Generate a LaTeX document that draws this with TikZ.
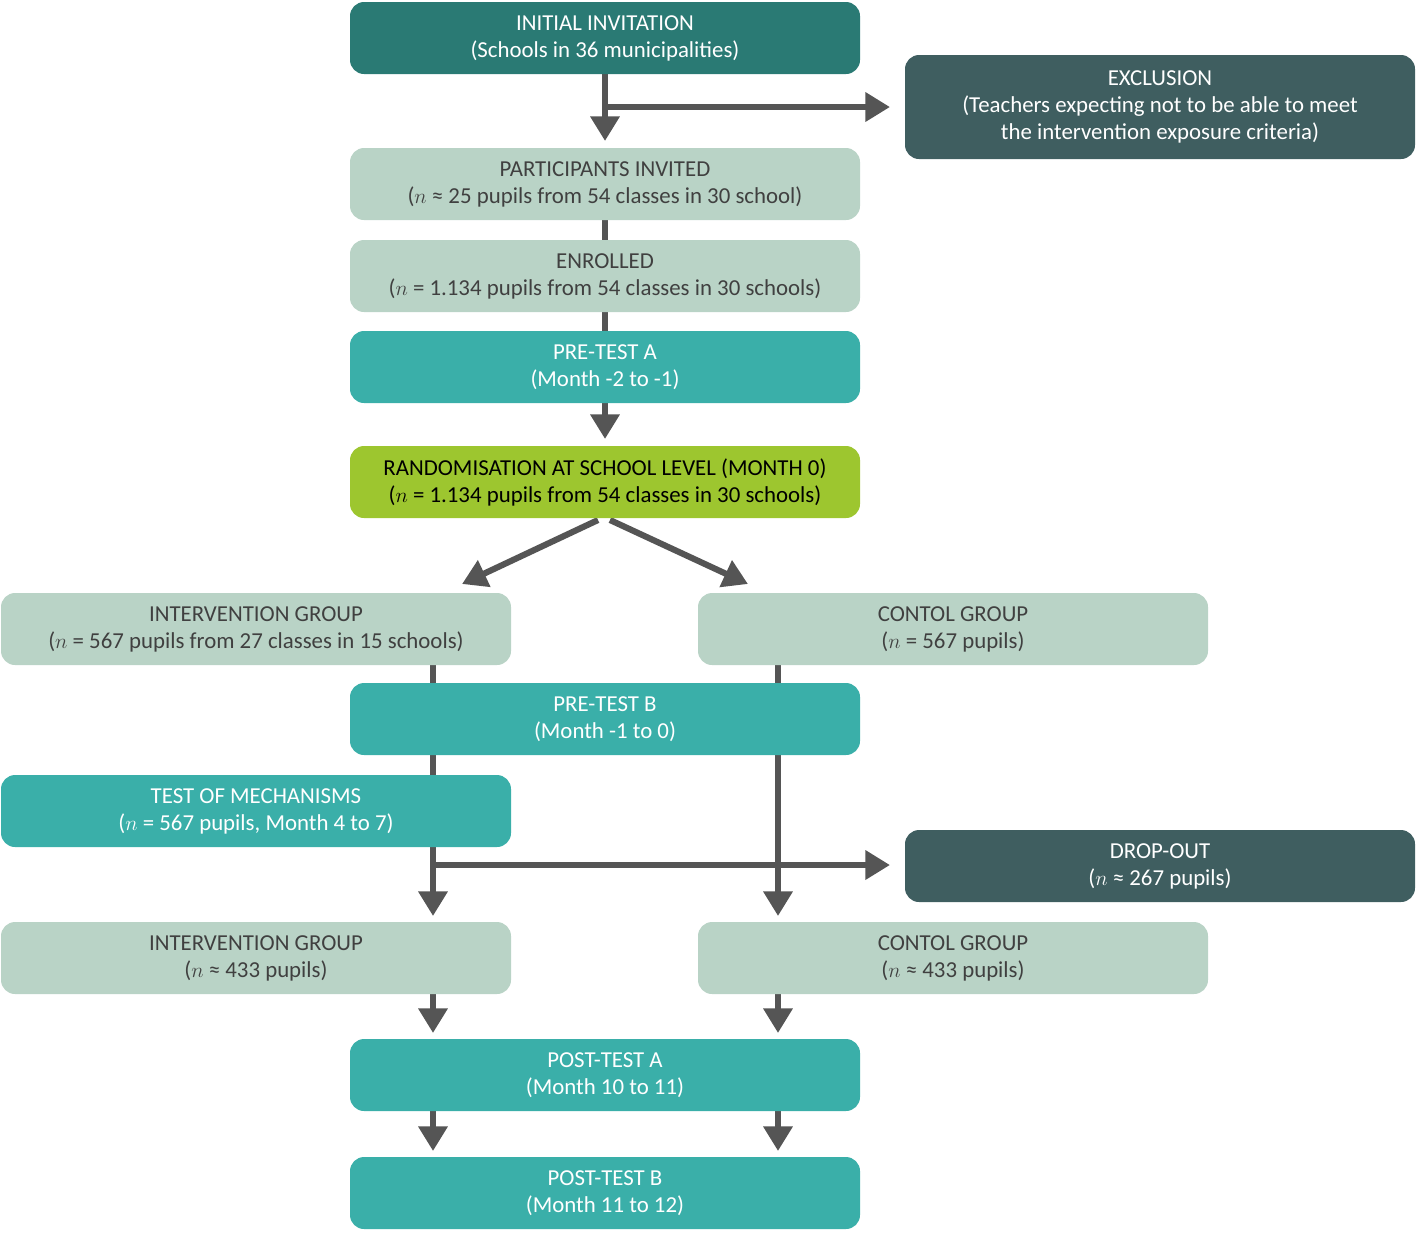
\documentclass[tikz,border=0pt]{standalone}
\usepackage{fontspec}
\setmainfont{Carlito}
\usetikzlibrary{arrows.meta}
\definecolor{darkteal}{HTML}{2A7A74}
\definecolor{slate}{HTML}{3F5E60}
\definecolor{pale}{HTML}{B9D3C6}
\definecolor{teal}{HTML}{3AAFA9}
\definecolor{lime}{HTML}{9DC62F}
\definecolor{line}{HTML}{555555}
\begin{document}
\begin{tikzpicture}[x=0.02cm,y=-0.02cm,
	box/.style={rounded corners=8pt, minimum width=510*0.02cm, minimum height=72*0.02cm, align=center, inner sep=0pt,
		font=\fontsize{13}{15.4}\selectfont},
	dark/.style={box, fill=darkteal, text=white},
	grey/.style={box, fill=slate, text=white},
	light/.style={box, fill=pale, text=black!75},
	test/.style={box, fill=teal, text=white},
	rand/.style={box, fill=lime, text=black},
	conn/.style={line, line width=3.5pt},
	arr/.style={conn, -{Triangle[length=14pt,width=16pt]}}]
	\useasboundingbox (0,0) rectangle (1416,1232);
	% connectors first, behind the boxes
	\coordinate (v1) at (605,74);   \coordinate (v2) at (605,141);
	\coordinate (b1) at (605,107);  \coordinate (b2) at (890,107);
	\coordinate (r1) at (598,520);  \coordinate (r2) at (462,584);
	\coordinate (r3) at (610,520);  \coordinate (r4) at (748,584);
	\coordinate (i1) at (433,665);  \coordinate (i2) at (433,916);
	\coordinate (c1) at (778,665);  \coordinate (c2) at (778,916);
	\coordinate (d1) at (433,865);  \coordinate (d2) at (890,865);
	\coordinate (i3) at (433,994);  \coordinate (i4) at (433,1033);
	\coordinate (c3) at (778,994);  \coordinate (c4) at (778,1033);
	\coordinate (i5) at (433,1111); \coordinate (i6) at (433,1151);
	\coordinate (c5) at (778,1111); \coordinate (c6) at (778,1151);
	\coordinate (p1) at (605,220);  \coordinate (p2) at (605,331);
	\coordinate (a1) at (605,403);  \coordinate (a2) at (605,439);
	\draw[arr] (v1) -- (v2);
	\draw[arr] (b1) -- (b2);
	\draw[conn] (p1) -- (p2);
	\draw[arr] (a1) -- (a2);
	\draw[arr] (r1) -- (r2);
	\draw[arr] (r3) -- (r4);
	\draw[arr] (i1) -- (i2);
	\draw[arr] (c1) -- (c2);
	\draw[arr] (d1) -- (d2);
	\draw[arr] (i3) -- (i4);
	\draw[arr] (c3) -- (c4);
	\draw[arr] (i5) -- (i6);
	\draw[arr] (c5) -- (c6);

	\node[dark] (invite) at (605,38) {INITIAL INVITATION\\(Schools in 36 municipalities)};
	\node[grey, minimum height=104*0.02cm] (excl) at (1160,107) {EXCLUSION\\(Teachers expecting not to be able to meet\\the intervention exposure criteria)};
	\node[light] (invited) at (605,184) {PARTICIPANTS INVITED\\($n$ ≈ 25 pupils from 54 classes in 30 school)};
	\node[light] (enrolled) at (605,276) {ENROLLED\\($n$ = 1.134 pupils from 54 classes in 30 schools)};
	\node[test] (preA) at (605,367) {PRE-TEST A\\(Month -2 to -1)};
	\node[rand] (random) at (605,482) {RANDOMISATION AT SCHOOL LEVEL (MONTH 0)\\($n$ = 1.134 pupils from 54 classes in 30 schools)};
	\node[light] (interv) at (256,629) {INTERVENTION GROUP\\($n$ = 567 pupils from 27 classes in 15 schools)};
	\node[light] (contr) at (953,629) {CONTOL GROUP\\($n$ = 567 pupils)};
	\node[test] (preB) at (605,719) {PRE-TEST B\\(Month -1 to 0)};
	\node[test] (mech) at (256,811) {TEST OF MECHANISMS\\($n$ = 567 pupils, Month 4 to 7)};
	\node[grey] (drop) at (1160,866) {DROP-OUT\\($n$ ≈ 267 pupils)};
	\node[light] (interv2) at (256,958) {INTERVENTION GROUP\\($n$ ≈ 433 pupils)};
	\node[light] (contr2) at (953,958) {CONTOL GROUP\\($n$ ≈ 433 pupils)};
	\node[test] (postA) at (605,1075) {POST-TEST A\\(Month 10 to 11)};
	\node[test] (postB) at (605,1193) {POST-TEST B\\(Month 11 to 12)};
\end{tikzpicture}
\end{document}
